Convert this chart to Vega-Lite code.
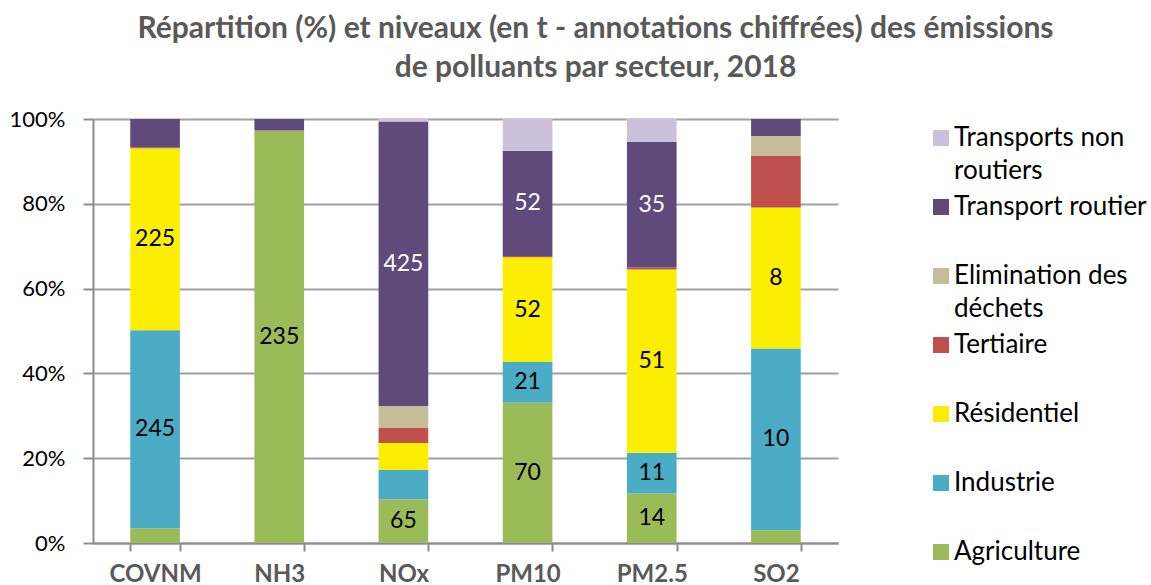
{
  "$schema": "https://vega.github.io/schema/vega-lite/v6.json",
  "autosize": "none",
  "width": 745,
  "height": 424,
  "padding": {"left": 93, "top": 119, "right": 313, "bottom": 42},
  "background": "white",
  "title": {
    "text": ["Répartition (%) et niveaux (en t - annotations chiffrées) des émissions", "de polluants par secteur, 2018"],
    "font": "Lato",
    "fontSize": 30,
    "fontWeight": "bold",
    "color": "#595959",
    "lineHeight": 39,
    "anchor": "middle",
    "frame": "group",
    "dx": 130,
    "offset": 25
  },
  "data": {
    "values": [
      {"polluant": "COVNM", "secteur": "Agriculture", "pct": 3.5, "t": ""},
      {"polluant": "COVNM", "secteur": "Industrie", "pct": 46.7, "t": "245"},
      {"polluant": "COVNM", "secteur": "Résidentiel", "pct": 42.9, "t": "225"},
      {"polluant": "COVNM", "secteur": "Tertiaire", "pct": 0.2, "t": ""},
      {"polluant": "COVNM", "secteur": "Transport routier", "pct": 6.7, "t": ""},
      {"polluant": "NH3", "secteur": "Agriculture", "pct": 97.3, "t": "235"},
      {"polluant": "NH3", "secteur": "Transport routier", "pct": 2.7, "t": ""},
      {"polluant": "NOx", "secteur": "Agriculture", "pct": 10.3, "t": "65"},
      {"polluant": "NOx", "secteur": "Industrie", "pct": 6.9, "t": ""},
      {"polluant": "NOx", "secteur": "Résidentiel", "pct": 6.4, "t": ""},
      {"polluant": "NOx", "secteur": "Tertiaire", "pct": 3.5, "t": ""},
      {"polluant": "NOx", "secteur": "Elimination des déchets", "pct": 5.2, "t": ""},
      {"polluant": "NOx", "secteur": "Transport routier", "pct": 67.1, "t": "425"},
      {"polluant": "NOx", "secteur": "Transports non routiers", "pct": 0.6, "t": ""},
      {"polluant": "PM10", "secteur": "Agriculture", "pct": 33.1, "t": "70"},
      {"polluant": "PM10", "secteur": "Industrie", "pct": 9.6, "t": "21"},
      {"polluant": "PM10", "secteur": "Résidentiel", "pct": 24.7, "t": "52"},
      {"polluant": "PM10", "secteur": "Tertiaire", "pct": 0.3, "t": ""},
      {"polluant": "PM10", "secteur": "Transport routier", "pct": 24.8, "t": "52"},
      {"polluant": "PM10", "secteur": "Transports non routiers", "pct": 7.5, "t": ""},
      {"polluant": "PM2.5", "secteur": "Agriculture", "pct": 11.7, "t": "14"},
      {"polluant": "PM2.5", "secteur": "Industrie", "pct": 9.6, "t": "11"},
      {"polluant": "PM2.5", "secteur": "Résidentiel", "pct": 43.2, "t": "51"},
      {"polluant": "PM2.5", "secteur": "Tertiaire", "pct": 0.5, "t": ""},
      {"polluant": "PM2.5", "secteur": "Transport routier", "pct": 29.6, "t": "35"},
      {"polluant": "PM2.5", "secteur": "Transports non routiers", "pct": 5.4, "t": ""},
      {"polluant": "SO2", "secteur": "Agriculture", "pct": 3.0, "t": ""},
      {"polluant": "SO2", "secteur": "Industrie", "pct": 42.9, "t": "10"},
      {"polluant": "SO2", "secteur": "Résidentiel", "pct": 33.2, "t": "8"},
      {"polluant": "SO2", "secteur": "Tertiaire", "pct": 12.2, "t": ""},
      {"polluant": "SO2", "secteur": "Elimination des déchets", "pct": 4.7, "t": ""},
      {"polluant": "SO2", "secteur": "Transport routier", "pct": 4.0, "t": ""}
    ]
  },
  "transform": [
    {"calculate": "indexof(['Agriculture','Industrie','Résidentiel','Tertiaire','Elimination des déchets','Transport routier','Transports non routiers'], datum.secteur)", "as": "ord"},
    {"stack": "pct", "groupby": ["polluant"], "sort": [{"field": "ord", "order": "ascending"}], "as": ["y0", "y1"]},
    {"calculate": "(datum.y0 + datum.y1) / 2", "as": "ymid"}
  ],
  "encoding": {
    "x": {
      "field": "polluant",
      "type": "nominal",
      "sort": ["COVNM", "NH3", "NOx", "PM10", "PM2.5", "SO2"],
      "scale": {"paddingInner": 0.6, "paddingOuter": 0.3},
      "axis": {
        "title": null,
        "labelAngle": 0,
        "labelFont": "Lato",
        "labelFontSize": 24,
        "labelFontWeight": "bold",
        "labelColor": "#595959",
        "labelPadding": 11,
        "tickBand": "extent",
        "tickSize": 8,
        "tickColor": "#8c8c8c",
        "tickWidth": 2,
        "domainColor": "#8c8c8c",
        "domainWidth": 2,
        "grid": false
      }
    }
  },
  "layer": [
    {
      "mark": {"type": "bar"},
      "encoding": {
        "y": {
          "field": "y0",
          "type": "quantitative",
          "scale": {"domain": [0, 100], "nice": false},
          "axis": {
            "title": null,
            "values": [0, 20, 40, 60, 80, 100],
            "labelExpr": "datum.value + '%'",
            "labelFont": "Lato",
            "labelFontSize": 22,
            "labelColor": "#000000",
            "labelPadding": 18,
            "tickSize": 10,
            "tickColor": "#8c8c8c",
            "tickWidth": 2,
            "domainColor": "#8c8c8c",
            "domainWidth": 2,
            "grid": true,
            "gridColor": "#a0a0a0",
            "gridWidth": 2
          }
        },
        "y2": {"field": "y1"},
        "color": {
          "field": "secteur",
          "type": "nominal",
          "scale": {
            "domain": ["Transports non routiers", "Transport routier", "Elimination des déchets", "Tertiaire", "Résidentiel", "Industrie", "Agriculture"],
            "range": ["#ccc1da", "#604a7b", "#c4bd97", "#c0504d", "#fcee00", "#4bacc6", "#9bbb59"]
          },
          "legend": {
            "title": null,
            "orient": "none",
            "legendX": 835,
            "legendY": 6,
            "padding": 0,
            "symbolType": "square",
            "symbolSize": 256,
            "symbolStrokeWidth": 0,
            "symbolOpacity": 1,
            "labelFont": "Lato",
            "labelFontSize": 26,
            "labelColor": "#000000",
            "labelLimit": 400,
            "labelOffset": 0,
            "rowPadding": 10,
            "labelExpr": "datum.label == 'Transports non routiers' ? ['Transports non', 'routiers'] : datum.label == 'Elimination des déchets' ? ['Elimination des', 'déchets'] : [datum.label, '']"
          }
        }
      }
    },
    {
      "mark": {"type": "text", "font": "Lato", "fontSize": 23, "baseline": "middle", "align": "center"},
      "encoding": {
        "y": {"field": "ymid", "type": "quantitative"},
        "text": {"field": "t"},
        "color": {
          "condition": {"test": "datum.secteur == 'Transport routier'", "value": "#ffffff"},
          "value": "#000000"
        }
      }
    }
  ],
  "config": {
    "view": {"stroke": null},
    "style": {"guide-label": {"lineHeight": 33}}
  }
}
